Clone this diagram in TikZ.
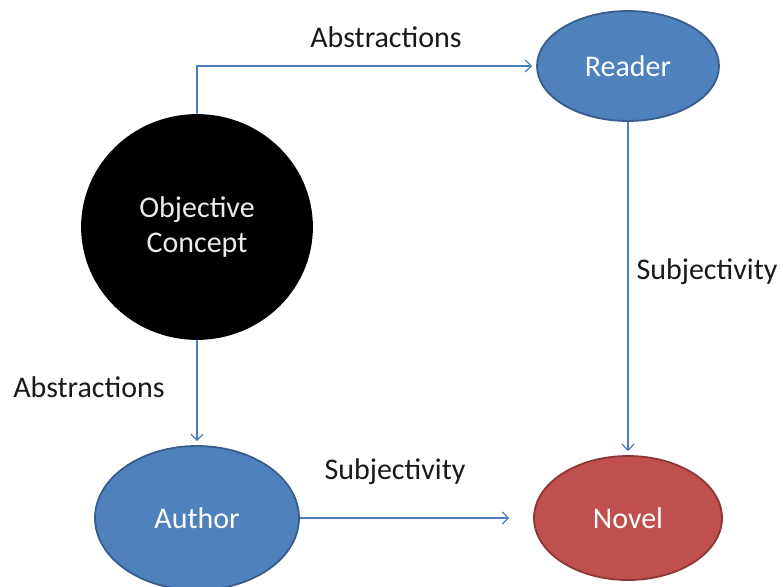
\documentclass[tikz,border=0pt]{standalone}
\usepackage{fontspec}
\setmainfont{Carlito}
\usetikzlibrary{shapes.geometric,arrows.meta}
\definecolor{obblue}{HTML}{4F81BD}
\definecolor{obblueline}{HTML}{385D8A}
\definecolor{obred}{HTML}{C0504D}
\definecolor{obredline}{HTML}{8C3836}
\definecolor{conn}{HTML}{4A7EBB}
\tikzset{
  blob/.style={ellipse, inner sep=0pt, line width=1.8pt, text=white,
    font=\fontsize{30}{35}\selectfont, align=center},
  bluenode/.style={blob, fill=obblue, draw=obblueline},
  rednode/.style={blob, fill=obred, draw=obredline},
  blacknode/.style={blob, fill=black, draw=black, text=white!92!black},
  lbl/.style={font=\fontsize{30}{35}\selectfont, text=black!90, inner sep=0pt},
  conarrow/.style={draw=conn, line width=1.3pt,
    -{Straight Barb[length=6pt, width=12pt, line width=1.3pt]}, shorten >=4pt}
}
\begin{document}
\begin{tikzpicture}[x=1pt, y=-1pt]
\useasboundingbox (0,0) rectangle (783,586);
\node[blacknode, minimum width=230pt, minimum height=224pt] (oc) at (197,227) {Objective\\Concept};
\node[bluenode, minimum width=182pt, minimum height=110pt] (reader) at (628,66) {Reader};
\node[bluenode, minimum width=204pt, minimum height=144pt] (author) at (197,518) {Author};
\node[rednode, minimum width=188pt, minimum height=124pt] (novel) at (628,518) {Novel};

\draw[conarrow] (oc.north) |- (reader.west);
\draw[conarrow] (oc.south) -- (author.north);
\draw[conarrow] (reader.south) -- (novel.north);
\draw[conarrow] (author.east) -- ([xshift=-20pt]novel.west);

\node[lbl] (l1) at (386,37) {Abstractions};
\node[lbl] (l2) at (89,387) {Abstractions};
\node[lbl] (l3) at (707,272) {Subjectivity};
\node[lbl] (l4) at (395,472) {Subjectivity};
\end{tikzpicture}
\end{document}
